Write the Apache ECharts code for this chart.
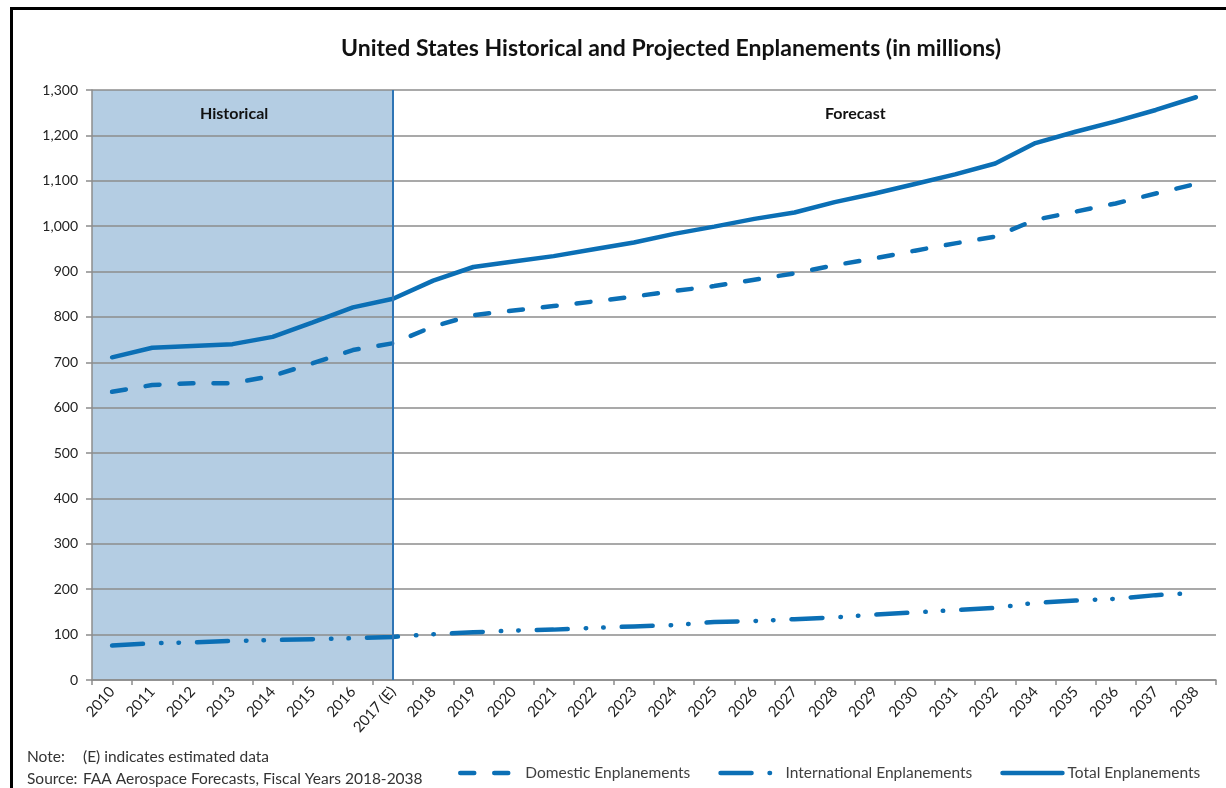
<!DOCTYPE html>
<html>
<head>
<meta charset="utf-8">
<title>United States Historical and Projected Enplanements</title>
<script src="https://cdn.jsdelivr.net/npm/echarts@6/dist/echarts.min.js"></script>
<style>
  html, body { margin: 0; padding: 0; background: #fff; overflow: hidden; }
  #chart { position: absolute; left: 0; top: 0; width: 1226px; height: 788px; }
  #frame { position: absolute; left: 10px; top: 7px; width: 1400px; height: 1000px;
           border: 3px solid #000; pointer-events: none; }
</style>
</head>
<body>
<div id="chart"></div>
<div id="frame"></div>
<script>
// fiscal years (2033 is not shown in the source chart)
const categories = ['2010', '2011', '2012', '2013', '2014', '2015', '2016', '2017 (E)',
  '2018', '2019', '2020', '2021', '2022', '2023', '2024', '2025', '2026', '2027',
  '2028', '2029', '2030', '2031', '2032', '2034', '2035', '2036', '2037', '2038'];

// enplanements, millions
const domestic = [635, 650, 654, 654, 670, 698, 727, 742, 779, 804, 814, 824, 834, 845,
  857, 868, 882, 896, 914, 929, 946, 962, 977, 1014, 1032, 1050, 1072, 1093];
const international = [76, 81, 83, 86, 88, 90, 92, 95, 101, 105, 109, 111, 115, 118,
  121, 128, 130, 134, 138, 144, 149, 154, 159, 170, 175, 179, 187, 192];
const total = [711, 732, 736, 740, 756, 788, 821, 840, 880, 910, 922, 934, 949, 964,
  983, 999, 1016, 1030, 1053, 1072, 1093, 1114, 1138, 1183, 1208, 1231, 1256, 1284];

const historicalEnd = '2017 (E)';
const yMax = 1300;
const yStep = 100;

const blue = '#0b6fb5';
const gridGray = '#8c8c8c';
const font = 'Lato, "Noto Sans", sans-serif';

const chart = echarts.init(document.getElementById('chart'));

chart.setOption({
  animation: false,
  title: {
    text: 'United States Historical and Projected Enplanements (in millions)',
    left: 336,
    top: 32,
    textStyle: { fontFamily: font, fontSize: 23, fontWeight: 'bold', color: '#111' }
  },
  legend: {
    left: 453,
    top: 760,
    itemWidth: 60,
    itemHeight: 14,
    itemGap: 28,
    itemStyle: { opacity: 0 },
    lineStyle: { width: 4.5 },
    textStyle: { fontFamily: font, fontSize: 15.5, color: '#404040' },
    data: ['Domestic Enplanements', 'International Enplanements', 'Total Enplanements']
  },
  grid: { left: 92, right: 10, top: 90, bottom: 108, containLabel: false },
  xAxis: {
    type: 'category',
    data: categories,
    boundaryGap: true,
    axisLine: { lineStyle: { color: gridGray, width: 1.5 } },
    axisTick: { show: true, length: 5, interval: 0, lineStyle: { color: gridGray, width: 1.5 } },
    axisLabel: { interval: 0, rotate: 48, margin: 9, fontFamily: font, fontSize: 15, color: '#222' }
  },
  yAxis: {
    type: 'value',
    min: 0,
    max: yMax,
    interval: yStep,
    axisLine: { show: true, lineStyle: { color: gridGray, width: 1.5 } },
    axisTick: { show: true, length: 6, lineStyle: { color: gridGray, width: 1.5 } },
    axisLabel: {
      margin: 14,
      fontFamily: font, fontSize: 14, color: '#222',
      formatter: v => v.toLocaleString('en-US')
    },
    splitLine: { lineStyle: { color: gridGray, width: 1.5 } }
  },
  series: [
    {
      name: 'Domestic Enplanements',
      type: 'line',
      data: domestic,
      symbol: 'none',
      lineStyle: { color: blue, width: 4.5, type: [14, 20], cap: 'round' },
      itemStyle: { color: blue }
    },
    {
      name: 'International Enplanements',
      type: 'line',
      data: international,
      symbol: 'none',
      lineStyle: { color: blue, width: 4.5, type: [31, 18, 0.5, 17, 0.5, 18], cap: 'round' },
      itemStyle: { color: blue }
    },
    {
      name: 'Total Enplanements',
      type: 'line',
      data: total,
      symbol: 'none',
      lineStyle: { color: blue, width: 4.5, cap: 'round' },
      itemStyle: { color: blue },
      markLine: {
        silent: true,
        symbol: 'none',
        label: { show: false },
        lineStyle: { color: '#2f75b5', width: 2, type: 'solid' },
        data: [{ xAxis: historicalEnd }]
      }
    }
  ]
});

// shaded "Historical" band: from the left edge of the first category to the 2017 (E) point
const px0 = chart.convertToPixel({ xAxisIndex: 0 }, categories[0]);
const px1 = chart.convertToPixel({ xAxisIndex: 0 }, categories[1]);
const pxEnd = chart.convertToPixel({ xAxisIndex: 0 }, historicalEnd);
const pyTop = chart.convertToPixel({ yAxisIndex: 0 }, yMax);
const pyBot = chart.convertToPixel({ yAxisIndex: 0 }, 0);
const bandLeft = px0 - (px1 - px0) / 2;

chart.setOption({
  graphic: [
    {
      type: 'rect', silent: true, z: -1,
      shape: { x: bandLeft, y: pyTop, width: pxEnd - bandLeft, height: pyBot - pyTop },
      style: { fill: '#b4cde3' }
    },
    {
      type: 'text', left: 200, top: 106, silent: true,
      style: { text: 'Historical', font: 'bold 16px ' + font, fill: '#111' }
    },
    {
      type: 'text', left: 825, top: 106, silent: true,
      style: { text: 'Forecast', font: 'bold 16px ' + font, fill: '#111' }
    },
    {
      type: 'text', left: 27, top: 749, silent: true,
      style: { text: 'Note:', font: '15.5px ' + font, fill: '#333' }
    },
    {
      type: 'text', left: 83, top: 749, silent: true,
      style: { text: '(E) indicates estimated data', font: '15.5px ' + font, fill: '#333' }
    },
    {
      type: 'text', left: 27, top: 771, silent: true,
      style: { text: 'Source:', font: '15.5px ' + font, fill: '#333' }
    },
    {
      type: 'text', left: 83, top: 771, silent: true,
      style: { text: 'FAA Aerospace Forecasts, Fiscal Years 2018-2038', font: '15.5px ' + font, fill: '#333' }
    }
  ]
});
</script>
</body>
</html>
